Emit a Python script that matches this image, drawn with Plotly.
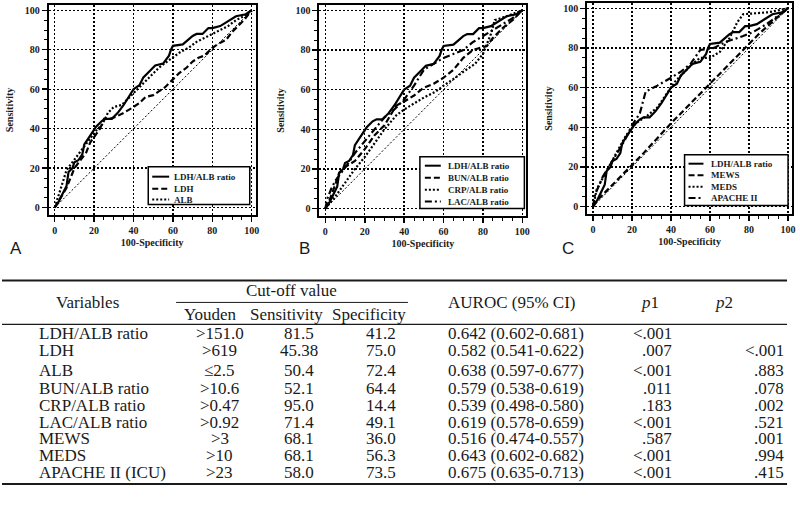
import plotly.graph_objects as go

W, H = 800, 523

# ---------------- DATA ----------------
chance_x = [0, 100]
chance_y = [0, 100]

ldh_alb_x = [0, 2, 4, 6, 7, 9, 10, 12, 14, 15, 17, 19, 21, 24, 26, 29, 31, 32, 35, 37, 38, 40, 43, 45, 48, 51, 55, 58, 59, 60, 65, 68, 70, 72, 75, 78, 80, 84, 87, 89, 92, 97, 100]
ldh_alb_y = [0, 3, 7, 11, 18, 20, 23, 24, 27, 32, 35, 38, 41, 44, 45, 45, 47, 48, 52, 55, 57, 60, 62, 66, 69, 72, 73, 77, 80, 82, 82.7, 85, 87, 88, 88, 91, 91, 92, 94, 95, 97, 98, 100]

ldh_x = [0, 3, 6, 8, 10, 13, 16, 18, 20, 23, 25, 28, 31, 35, 40, 43, 46, 50, 53, 56, 60, 63, 67, 70, 73, 76, 80, 83, 87, 90, 93, 96, 100]
ldh_y = [0, 5, 10, 15, 20, 24, 28, 33, 36, 40, 45, 45, 46, 48, 51, 53, 56, 57, 59, 61, 65, 68, 71, 74, 76, 77, 81, 83, 85, 89, 92, 95, 100]

alb_x = [0, 2, 4, 6, 9, 12, 15, 18, 21, 24, 27, 30, 34, 38, 42, 46, 50, 53, 57, 60, 64, 68, 72, 76, 80, 84, 88, 92, 96, 100]
alb_y = [0, 6, 12, 19, 23, 27, 31, 35, 39, 42, 48, 51, 52, 56, 60, 64, 68, 71, 74, 76, 79, 81, 84, 86, 88, 90, 92, 95, 97, 100]

bun_x = [0, 2, 5, 7, 10, 15, 20, 25, 30, 36, 40, 45, 50, 55, 60, 65, 70, 75, 82, 85, 90, 95, 100]
bun_y = [0, 4, 12, 18, 21, 24, 30, 37, 42, 52, 54, 57, 61, 63, 66, 70, 76, 80, 82, 86, 91, 95, 100]

crp_x = [0, 5, 10, 15, 20, 25, 30, 36, 40, 45, 50, 56, 60, 66, 70, 76, 80, 84, 86, 92, 100]
crp_y = [0, 6, 13, 20, 26, 33, 40, 47, 50, 53, 56, 59, 62, 66, 69, 73, 78, 88, 95, 97, 100]

lac_x = [0, 1, 3, 5, 8, 11, 15, 20, 25, 30, 35, 40, 45, 50, 55, 60, 65, 70, 75, 80, 85, 90, 95, 100]
lac_y = [0, 5, 10, 14, 18, 22, 28, 34, 40, 46, 50, 55, 62, 70, 73, 76, 78, 80, 84, 87, 90, 93, 96, 100]

mews_x = [0, 2, 10, 25, 40, 52, 64, 75, 85, 94, 100]
mews_y = [0, 3, 11, 26, 42, 54, 66, 77, 87, 95, 100]

meds_x = [0, 2, 7, 12, 17, 22, 28, 33, 38, 42, 46, 51, 55, 60, 65, 70, 74, 77, 90, 100]
meds_y = [0, 9, 18, 27, 36, 42, 46, 50, 57, 63, 67, 72, 75, 75, 78, 85, 93, 97, 98, 100]

apache_x = [0, 1, 5, 10, 16, 20, 24, 27, 33, 40, 45, 50, 55, 62, 68, 77, 82, 89, 96, 100]
apache_y = [0, 6, 15, 23, 33, 41, 47, 58, 61, 65, 68, 72, 79, 80, 83, 86, 88, 92, 97, 100]

tick_vals = [0, 20, 40, 60, 80, 100]

legend_a = ["LDH/ALB ratio", "LDH", "ALB"]
legend_b = ["LDH/ALB ratio", "BUN/ALB ratio", "CRP/ALB ratio", "LAC/ALB ratio"]
legend_c = ["LDH/ALB ratio", "MEWS", "MEDS", "APACHE II"]

variables = ["LDH/ALB ratio", "LDH", "ALB", "BUN/ALB ratio", "CRP/ALB ratio",
             "LAC/ALB ratio", "MEWS", "MEDS", "APACHE II (ICU)"]
youden = [">151.0", ">619", "≤2.5", ">10.6", ">0.47", ">0.92", ">3", ">10", ">23"]
sensitivity = ["81.5", "45.38", "50.4", "52.1", "95.0", "71.4", "68.1", "68.1", "58.0"]
specificity = ["41.2", "75.0", "72.4", "64.4", "14.4", "49.1", "36.0", "56.3", "73.5"]
auroc = ["0.642 (0.602-0.681)", "0.582 (0.541-0.622)", "0.638 (0.597-0.677)",
         "0.579 (0.538-0.619)", "0.539 (0.498-0.580)", "0.619 (0.578-0.659)",
         "0.516 (0.474-0.557)", "0.643 (0.602-0.682)", "0.675 (0.635-0.713)"]
p1 = ["<.001", ".007", "<.001", ".011", ".183", "<.001", ".587", "<.001", "<.001"]
p2 = ["", "<.001", ".883", ".078", ".002", ".521", ".001", ".994", ".415"]

# ---------------- STYLE ----------------
SOLID = "solid"
DASH = "6px,3px"
DOT = "2px,2px"
DASHDOT = "7px,3px,2px,3px"
SERIF = "Liberation Serif"
INK = "#1a1a1a"


def px(x):
    return x / W


def py(y):
    return 1 - y / H


XR = [-3, 102]
YR = [-3.5, 102.5]

# pixel positions of data 0 and 100 in each panel
panels = [
    dict(x0=55, x100=253, y0=207, y100=9.3),
    dict(x0=327, x100=525, y0=208, y100=9.3),
    dict(x0=596, x100=792, y0=206, y100=7.3),
]

fig = go.Figure()

series = [
    [(ldh_alb_x, ldh_alb_y, SOLID, "LDH/ALB ratio"), (ldh_x, ldh_y, DASH, "LDH"), (alb_x, alb_y, DOT, "ALB")],
    [(ldh_alb_x, ldh_alb_y, SOLID, "LDH/ALB ratio"), (bun_x, bun_y, DASH, "BUN/ALB ratio"),
     (crp_x, crp_y, DOT, "CRP/ALB ratio"), (lac_x, lac_y, DASHDOT, "LAC/ALB ratio")],
    [(ldh_alb_x, ldh_alb_y, SOLID, "LDH/ALB ratio"), (mews_x, mews_y, DASH, "MEWS"),
     (meds_x, meds_y, DOT, "MEDS"), (apache_x, apache_y, DASHDOT, "APACHE II")],
]

layout_axes = {}
for i, p in enumerate(panels):
    sfx = "" if i == 0 else str(i + 1)
    xs = (p["x100"] - p["x0"]) / 100.0
    ys = (p["y0"] - p["y100"]) / 100.0
    xd = [px(p["x0"] + XR[0] * xs), px(p["x0"] + XR[1] * xs)]
    yd = [py(p["y0"] - YR[0] * ys), py(p["y0"] - YR[1] * ys)]
    common = dict(
        showline=True, linewidth=2, linecolor="black", mirror=True,
        ticks="outside", ticklen=5, tickwidth=1.5, tickcolor="black",
        tickvals=tick_vals, showgrid=True, gridcolor="black", gridwidth=1.4,
        griddash=DOT, zeroline=False, fixedrange=True,
        tickfont=dict(family=SERIF, size=10, color=INK, weight="bold"),
        minor=dict(dtick=5, tick0=0, ticks="outside", ticklen=3, tickwidth=1,
                   tickcolor="black", showgrid=False),
    )
    layout_axes["xaxis" + sfx] = dict(
        common, domain=xd, range=XR, anchor="y" + sfx,
        title=dict(text="100-Specificity", standoff=4,
                   font=dict(family=SERIF, size=10, color=INK, weight="bold")),
    )
    layout_axes["yaxis" + sfx] = dict(
        common, domain=yd, range=YR, anchor="x" + sfx,
        title=dict(text="Sensitivity", standoff=9,
                   font=dict(family=SERIF, size=10, color=INK, weight="bold")),
    )
    # chance line
    fig.add_trace(go.Scatter(x=chance_x, y=chance_y, mode="lines",
                             line=dict(color="black", width=1, dash=DOT),
                             xaxis="x" + sfx, yaxis="y" + sfx, showlegend=False,
                             hoverinfo="skip"))
    for xv, yv, dash, name in reversed(series[i]):
        fig.add_trace(go.Scatter(x=xv, y=yv, mode="lines", name=name,
                                 line=dict(color="black", width=2.2, dash=dash),
                                 xaxis="x" + sfx, yaxis="y" + sfx, showlegend=False))

fig.update_layout(**layout_axes)

shapes = []
annotations = []

# ---------------- manual legends ----------------
legends = [
    dict(box=(149, 166, 251, 204), rows=[176, 188, 199], lx=(153, 170), tx=173,
         labels=legend_a, dashes=[SOLID, DASH, DOT]),
    dict(box=(422, 156, 527, 208), rows=[165, 177, 189, 201], lx=(427, 443), tx=448,
         labels=legend_b, dashes=[SOLID, DASH, DOT, DASHDOT]),
    dict(box=(688, 154, 792, 205), rows=[163, 174.5, 186, 197.5], lx=(692, 707), tx=713,
         labels=legend_c, dashes=[SOLID, DASH, DOT, DASHDOT]),
]
for lg in legends:
    x0, y0, x1, y1 = lg["box"]
    shapes.append(dict(type="rect", xref="paper", yref="paper",
                       x0=px(x0), x1=px(x1), y0=py(y0), y1=py(y1),
                       line=dict(color="black", width=1.5), fillcolor="white", layer="above"))
    for ry, lab, d in zip(lg["rows"], lg["labels"], lg["dashes"]):
        shapes.append(dict(type="line", xref="paper", yref="paper",
                           x0=px(lg["lx"][0]), x1=px(lg["lx"][1]), y0=py(ry), y1=py(ry),
                           line=dict(color="black", width=2, dash=d), layer="above"))
        annotations.append(dict(text=lab, xref="paper", yref="paper", x=px(lg["tx"]), y=py(ry),
                                xanchor="left", yanchor="middle", showarrow=False,
                                font=dict(family=SERIF, size=9, color=INK, weight="bold")))

# panel letters
for letter, lx in zip(["A", "B", "C"], [16, 306, 571]):
    annotations.append(dict(text=letter, xref="paper", yref="paper", x=px(lx), y=py(248),
                            xanchor="center", yanchor="middle", showarrow=False,
                            font=dict(family="Liberation Sans", size=17, color=INK)))

# ---------------- table ----------------
TF = dict(family=SERIF, size=17, color=INK)
row_y = [333, 350, 370, 388, 405, 422, 438, 455, 472]


def txt(s, x, y, anchor="center"):
    annotations.append(dict(text=s, xref="paper", yref="paper", x=px(x), y=py(y),
                            xanchor=anchor, yanchor="middle", showarrow=False, font=TF))


def hline(x0, x1, y, w):
    shapes.append(dict(type="line", xref="paper", yref="paper", x0=px(x0), x1=px(x1),
                       y0=py(y), y1=py(y), line=dict(color=INK, width=w)))


hline(2, 791, 280, 2)
hline(177, 410, 302, 1)
hline(2, 791, 324, 1.3)
hline(2, 791, 484, 2)

txt("Variables", 88, 302)
txt("Cut-off value", 293, 290)
txt("Youden", 212, 314)
txt("Sensitivity", 288, 314)
txt("Specificity", 371, 314)
txt("AUROC (95% CI)", 515, 302)
txt("<i>p</i>1", 653, 302)
txt("<i>p</i>2", 728, 302)

for i, ry in enumerate(row_y):
    txt(variables[i], 37, ry, "left")
    txt(youden[i], 221, ry)
    txt(sensitivity[i], 300, ry)
    txt(specificity[i], 383, ry)
    txt(auroc[i], 519, ry)
    txt(p1[i], 677, ry, "right")
    if p2[i]:
        txt(p2[i], 790, ry, "right")

fig.update_layout(
    width=W, height=H, margin=dict(l=0, r=0, t=0, b=0),
    paper_bgcolor="white", plot_bgcolor="white",
    shapes=shapes, annotations=annotations, showlegend=False,
)

fig.write_html("out.html", config={"displayModeBar": False, "staticPlot": True},
               post_script="document.body.style.margin='0';document.body.style.overflow='hidden';")
